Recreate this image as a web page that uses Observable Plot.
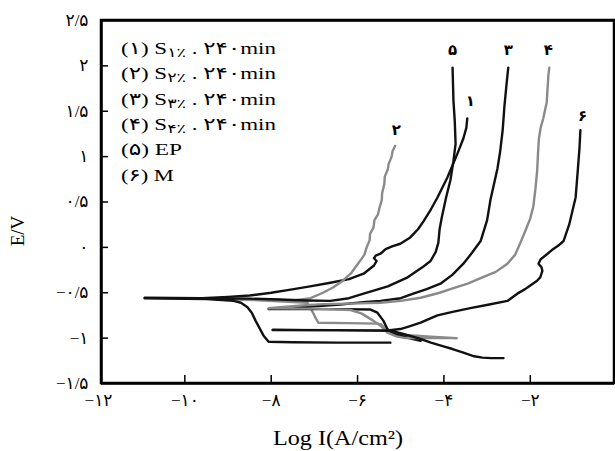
<!DOCTYPE html>
<html><head><meta charset="utf-8">
<script src="https://cdn.jsdelivr.net/npm/d3@7"></script>
<script src="https://cdn.jsdelivr.net/npm/@observablehq/plot@0.6"></script>
<style>
html,body{margin:0;padding:0;background:#fff;}
#chart{width:615px;height:451px;}
</style></head><body><div id="chart"></div>
<script>
// ---- Axis ticks ----
const xTickValues = [-12, -10, -8, -6, -4, -2, 0];
const xTickLabels = ["−۱۲", "−۱۰", "−۸", "−۶", "−۴", "−۲", "۰"];
const yTickValues = [-1.5, -1, -0.5, 0, 0.5, 1, 1.5, 2, 2.5];
const yTickLabels = ["−۱/۵", "−۱", "−۰/۵", "۰", "۰/۵", "۱", "۱/۵", "۲", "۲/۵"];

// ---- Curves: [log I, E] ----
const curve1 = [[-10.93,-0.555],[-9.6,-0.56],[-9.0,-0.545],[-8.5,-0.53],[-8.0,-0.50],[-7.55,-0.465],[-7.1,-0.43],[-6.63,-0.39],[-6.2,-0.35],[-5.86,-0.29],[-5.62,-0.2],[-5.56,-0.15],[-5.62,-0.12],[-5.58,-0.09],[-5.47,-0.07],[-5.35,-0.02],[-5.2,0.01],[-5.01,0.04],[-4.78,0.11],[-4.6,0.2],[-4.47,0.29],[-4.3,0.42],[-4.15,0.55],[-3.92,0.77],[-3.69,1.03],[-3.55,1.2],[-3.48,1.32],[-3.46,1.42]];
const curve2 = [[-3.71,-1.0],[-4.3,-0.985],[-4.9,-0.965],[-5.2,-0.95],[-5.35,-0.9],[-5.45,-0.85],[-5.54,-0.84],[-6.2,-0.835],[-6.91,-0.83],[-6.97,-0.78],[-7.02,-0.73],[-7.1,-0.66],[-7.16,-0.61],[-7.6,-0.6],[-8.4,-0.58],[-9.34,-0.57],[-8.5,-0.575],[-7.8,-0.58],[-7.48,-0.585],[-7.09,-0.56],[-6.8,-0.5],[-6.56,-0.44],[-6.35,-0.37],[-6.16,-0.29],[-6.02,-0.2],[-5.93,-0.14],[-5.84,-0.08],[-5.79,0.0],[-5.72,0.08],[-5.71,0.15],[-5.63,0.22],[-5.61,0.3],[-5.53,0.36],[-5.49,0.44],[-5.44,0.52],[-5.43,0.6],[-5.38,0.7],[-5.37,0.78],[-5.3,0.86],[-5.28,0.92],[-5.21,1.0],[-5.19,1.06],[-5.13,1.12]];
const curve3 = [[-4.54,-1.03],[-4.89,-0.99],[-5.17,-0.95],[-5.31,-0.9],[-5.4,-0.81],[-5.54,-0.72],[-5.7,-0.685],[-6.5,-0.68],[-7.5,-0.68],[-8.06,-0.68],[-7.5,-0.665],[-7.0,-0.65],[-6.4,-0.63],[-5.8,-0.6],[-5.47,-0.59],[-5.0,-0.56],[-4.71,-0.51],[-4.4,-0.46],[-4.08,-0.4],[-3.8,-0.3],[-3.55,-0.18],[-3.35,-0.06],[-3.15,0.07],[-3.0,0.3],[-2.92,0.53],[-2.83,0.72],[-2.76,0.87],[-2.7,1.05],[-2.64,1.29],[-2.6,1.55],[-2.55,1.8],[-2.51,1.98]];
const curve4 = [[-3.71,-1.0],[-4.2,-1.0],[-4.89,-1.0],[-5.1,-0.98],[-5.31,-0.94],[-5.45,-0.87],[-5.63,-0.81],[-5.9,-0.73],[-6.16,-0.69],[-7.0,-0.675],[-8.06,-0.67],[-7.3,-0.64],[-6.8,-0.625],[-6.2,-0.62],[-5.47,-0.61],[-5.0,-0.59],[-4.54,-0.555],[-4.1,-0.5],[-3.78,-0.45],[-3.45,-0.4],[-3.15,-0.34],[-2.8,-0.27],[-2.53,-0.18],[-2.35,-0.08],[-2.23,0.05],[-2.1,0.2],[-2.0,0.32],[-1.93,0.45],[-1.88,0.65],[-1.84,0.85],[-1.82,1.05],[-1.8,1.2],[-1.76,1.32],[-1.7,1.42],[-1.62,1.6],[-1.6,1.75],[-1.58,1.9],[-1.56,1.98]];
const curve5 = [[-5.24,-1.05],[-6.5,-1.05],[-7.5,-1.045],[-8.06,-1.04],[-8.18,-0.97],[-8.36,-0.81],[-8.45,-0.72],[-8.55,-0.66],[-8.7,-0.61],[-8.87,-0.59],[-9.5,-0.57],[-10.93,-0.56],[-9.5,-0.56],[-8.5,-0.565],[-7.8,-0.575],[-7.2,-0.585],[-6.63,-0.59],[-6.2,-0.56],[-5.86,-0.51],[-5.3,-0.43],[-4.84,-0.33],[-4.5,-0.22],[-4.31,-0.15],[-4.19,-0.05],[-4.13,0.05],[-4.1,0.2],[-4.05,0.33],[-3.95,0.55],[-3.85,0.74],[-3.78,0.95],[-3.73,1.14],[-3.75,1.4],[-3.78,1.62],[-3.8,1.98]];
const curve6 = [[-2.62,-1.22],[-2.9,-1.22],[-3.11,-1.215],[-3.3,-1.2],[-3.55,-1.16],[-3.8,-1.12],[-4.01,-1.09],[-4.3,-1.05],[-4.6,-1.0],[-4.9,-0.96],[-5.1,-0.935],[-5.24,-0.92],[-6.5,-0.915],[-7.97,-0.91],[-6.5,-0.912],[-5.3,-0.915],[-5.01,-0.9],[-4.8,-0.87],[-4.54,-0.83],[-4.3,-0.78],[-4.15,-0.75],[-3.8,-0.71],[-3.39,-0.67],[-2.95,-0.63],[-2.53,-0.59],[-2.3,-0.51],[-2.12,-0.46],[-2.0,-0.42],[-1.85,-0.37],[-1.77,-0.33],[-1.72,-0.26],[-1.74,-0.22],[-1.81,-0.18],[-1.76,-0.13],[-1.65,-0.09],[-1.5,-0.03],[-1.35,0.02],[-1.23,0.07],[-1.1,0.25],[-1.0,0.45],[-0.95,0.55],[-0.9,0.85],[-0.86,1.1],[-0.84,1.29]];

const curves = [curve1, curve2, curve3, curve4, curve5, curve6];
const curveColors = ["#111", "#8a8a8a", "#111", "#8a8a8a", "#111", "#111"];

// ---- Curve end labels ----
const curveLabels = ["۱", "۲", "۳", "۴", "۵", "۶"];
const labelX = [-3.39, -5.1, -2.51, -1.58, -3.80, -0.79];
const labelY = [1.61, 1.29, 2.17, 2.17, 2.17, 1.45];

// ---- Legend ----
const legendIdx  = ["(۱)", "(۲)", "(۳)", "(۴)", "(۵)", "(۶)"];
const legendName = ["S", "S", "S", "S", "EP", "M"];
const legendSub  = ["۱٪", "۲٪", "۳٪", "۴٪", "", ""];
const legendTail = [" . ۲۴۰min", " . ۲۴۰min", " . ۲۴۰min", " . ۲۴۰min", "", ""];

const FONT = '"Liberation Serif", "DejaVu Sans", serif';
const xDomain = [-11.93, -0.05];
const yDomain = [-1.5, 2.5];

const lineMarks = curves.map((c, i) =>
  Plot.line(c, {x: d => d[0], y: d => d[1], stroke: curveColors[i], strokeWidth: 2.4, strokeLinejoin: "round"})
);

const xInner = xTickValues.filter(d => d > -12 && d < 0);
const yInner = yTickValues.filter(d => d > -1.5 && d < 2.5);

const chart = Plot.plot({
  width: 615, height: 451,
  marginLeft: 101, marginRight: 1, marginTop: 20, marginBottom: 68,
  x: {domain: xDomain, axis: null},
  y: {domain: yDomain, axis: null},
  style: {fontFamily: FONT, fontSize: "17px"},
  marks: [
    ...lineMarks,
    Plot.tickX(xInner, {x: d => d, stroke: "black", strokeWidth: 1.5, insetTop: 355}),
    Plot.tickY(yInner, {y: d => d, stroke: "black", strokeWidth: 1.5, insetRight: 506}),
    Plot.rect([0], {x1: () => xDomain[0], x2: () => xDomain[1], y1: () => yDomain[0], y2: () => yDomain[1], fill: "none", stroke: "#000", strokeWidth: 2.5}),
    Plot.ruleX(xDomain, {x: d => d, stroke: "#000", strokeWidth: 2.5}),
    Plot.ruleY(yDomain, {y: d => d, stroke: "#000", strokeWidth: 2.5}),
    Plot.text(xTickValues, {x: d => d, text: (d, i) => xTickLabels[i], frameAnchor: "bottom", lineAnchor: "top", dy: 10, fontSize: 17, fill: "black"}),
    Plot.text(yTickValues, {y: d => d, text: (d, i) => yTickLabels[i], frameAnchor: "left", textAnchor: "end", dx: -13, fontSize: 17, fill: "black"}),
    Plot.text(curveLabels, {x: (d, i) => labelX[i], y: (d, i) => labelY[i], text: d => d, fontSize: 15, fontWeight: "bold", fill: "black"})
  ]
});
document.getElementById("chart").appendChild(chart);

const svg = d3.select(chart);
// legend
const legendWidths = [155, 155, 155, 155, 61, 53];
legendIdx.forEach((idx, i) => {
  const t = svg.append("text")
    .attr("x", 121).attr("y", 54 + i * 25.3)
    .attr("text-anchor", "start")
    .attr("font-family", FONT).attr("font-size", 17).attr("fill", "black")
    .attr("textLength", legendWidths[i]).attr("lengthAdjust", "spacingAndGlyphs");
  t.append("tspan").text(idx + " " + legendName[i]);
  if (legendSub[i]) {
    t.append("tspan").attr("font-size", 13).attr("dy", 3).text(legendSub[i]);
    t.append("tspan").attr("dy", -3).text(legendTail[i]);
  }
});
// axis titles
svg.append("text")
  .attr("x", 273).attr("y", 445)
  .attr("text-anchor", "start")
  .attr("font-family", FONT).attr("font-size", 21).attr("fill", "black")
  .attr("textLength", 130).attr("lengthAdjust", "spacingAndGlyphs")
  .text("Log I(A/cm²)");
svg.append("text")
  .attr("transform", "translate(24,231) rotate(-90)")
  .attr("text-anchor", "middle")
  .attr("font-family", FONT).attr("font-size", 19).attr("fill", "black")
  .text("E/V");
</script>
</body></html>
